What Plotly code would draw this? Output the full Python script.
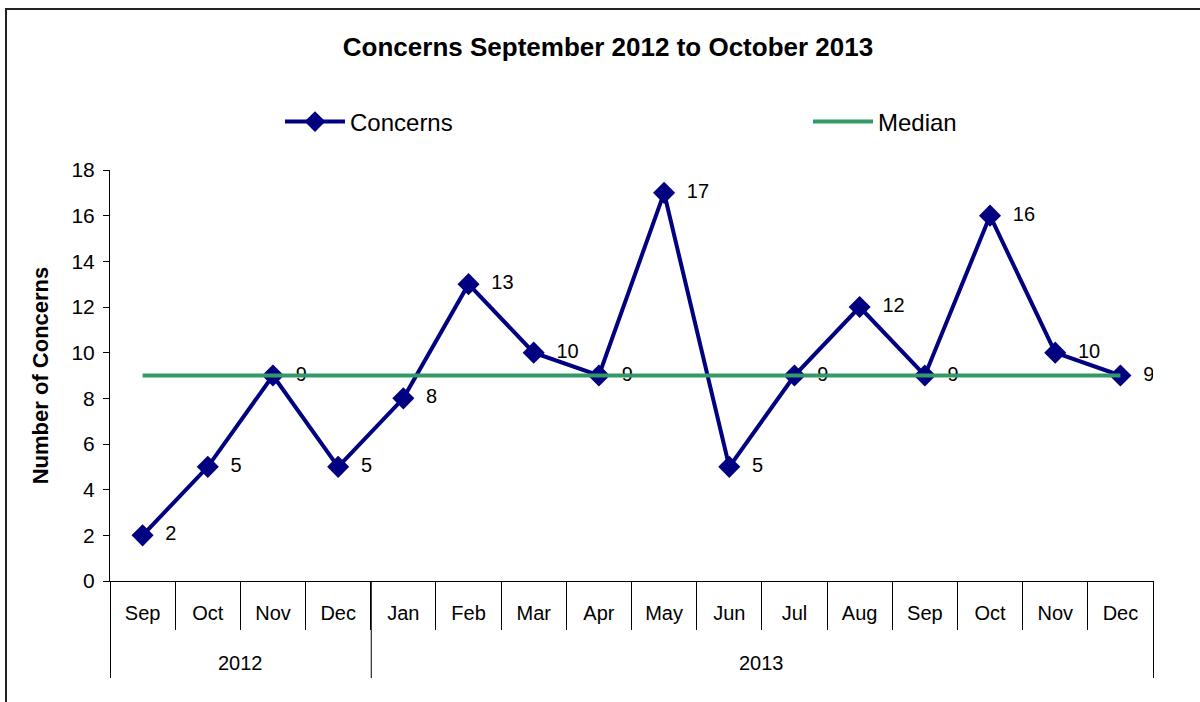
import plotly.graph_objects as go

# Monthly concern counts, Sep 2012 - Dec 2013
months = ["Sep", "Oct", "Nov", "Dec", "Jan", "Feb", "Mar", "Apr",
          "May", "Jun", "Jul", "Aug", "Sep", "Oct", "Nov", "Dec"]
years = ["2012", "2013"]
months_per_year = [4, 12]
concerns = [2, 5, 9, 5, 8, 13, 10, 9, 17, 5, 9, 12, 9, 16, 10, 9]
median = [9] * 16

FONT = "Liberation Sans, Arial, sans-serif"
NAVY = "#000080"
GREEN = "#339966"

pos = list(range(len(months)))
boundaries = [p - 0.5 for p in pos] + [pos[-1] + 0.5]
n_cat = len(months)

# plot-area geometry in pixels, used for paper-coordinate conversions
L, R, T, B = 110, 47, 170, 121
W, H = 1200, 702
PW, PH = W - L - R, H - T - B


def py(px_y):
    """Pixel row -> paper y."""
    return (H - B - px_y) / PH


def pxx(px_x):
    """Pixel column -> paper x."""
    return (px_x - L) / PW


fig = go.Figure()

fig.add_trace(go.Scatter(
    x=pos, y=concerns, name="Concerns",
    mode="lines+markers+text",
    line=dict(color=NAVY, width=4),
    marker=dict(symbol="diamond", size=17, color=NAVY),
    text=["  " + str(v) for v in concerns],
    textposition="middle right",
    textfont=dict(family=FONT, size=20, color="black"),
    legend="legend",
))

fig.add_trace(go.Scatter(
    x=pos, y=median, name="Median",
    mode="lines",
    line=dict(color=GREEN, width=4),
    legend="legend2",
))

legend_common = dict(
    orientation="h", xanchor="left", yanchor="middle",
    font=dict(family=FONT, size=24, color="black"),
    itemwidth=60, bgcolor="rgba(0,0,0,0)",
)

fig.update_layout(
    width=W, height=H,
    margin=dict(l=L, r=R, t=T, b=B),
    paper_bgcolor="white", plot_bgcolor="white",
    font=dict(family=FONT, size=20, color="black"),
    title=dict(
        text="<b>Concerns September 2012 to October 2013</b>",
        font=dict(family=FONT, size=26, color="black"),
        x=608 / W, xref="container", xanchor="center",
        y=1 - 47 / H, yref="container", yanchor="middle",
    ),
    legend=dict(x=pxx(280), y=py(122), **legend_common),
    legend2=dict(x=pxx(808), y=py(122), **legend_common),
    showlegend=True,
)

fig.update_xaxes(
    range=[-0.5, n_cat - 0.5],
    tickmode="array", tickvals=pos, ticktext=months,
    ticks="", ticklabelstandoff=14,
    showline=True, linecolor="black", linewidth=1,
    showgrid=False, zeroline=False,
    tickfont=dict(family=FONT, size=20, color="black"),
    minor=dict(tickmode="array", tickvals=boundaries, ticks="outside",
               ticklen=48, tickcolor="black", tickwidth=1, showgrid=False),
)

fig.update_yaxes(
    range=[0, 18], dtick=2, tick0=0,
    showline=True, linecolor="black", linewidth=1,
    ticks="outside", ticklen=6, tickcolor="black",
    ticklabelstandoff=4,
    showgrid=False, zeroline=False,
    tickfont=dict(family=FONT, size=21, color="black"),
    title=dict(text="<b>Number of Concerns</b>",
               font=dict(family=FONT, size=22, color="black"),
               standoff=16),
)

# Year group labels and the dividers between year groups
start = -0.5
for yr, n in zip(years, months_per_year):
    end = start + n
    fig.add_annotation(
        x=(start + end) / 2, xref="x", y=py(663), yref="paper",
        text=yr, showarrow=False, yanchor="middle",
        font=dict(family=FONT, size=20, color="black"),
    )
    start = end

group_edges = [0]
for n in months_per_year:
    group_edges.append(group_edges[-1] + n)
for e in group_edges:
    # half-pixel nudge keeps the 1px divider crisp
    xp = e / n_cat + 0.5 / PW
    fig.add_shape(
        type="line", xref="paper", yref="paper",
        x0=xp, x1=xp, y0=0, y1=py(678),
        line=dict(color="black", width=1),
    )

# Outer chart frame
fig.add_shape(
    type="rect", xref="paper", yref="paper",
    x0=pxx(6), x1=pxx(1210), y0=py(720), y1=py(9),
    line=dict(color="#222222", width=2), layer="below",
)

fig.write_html("out.html")
